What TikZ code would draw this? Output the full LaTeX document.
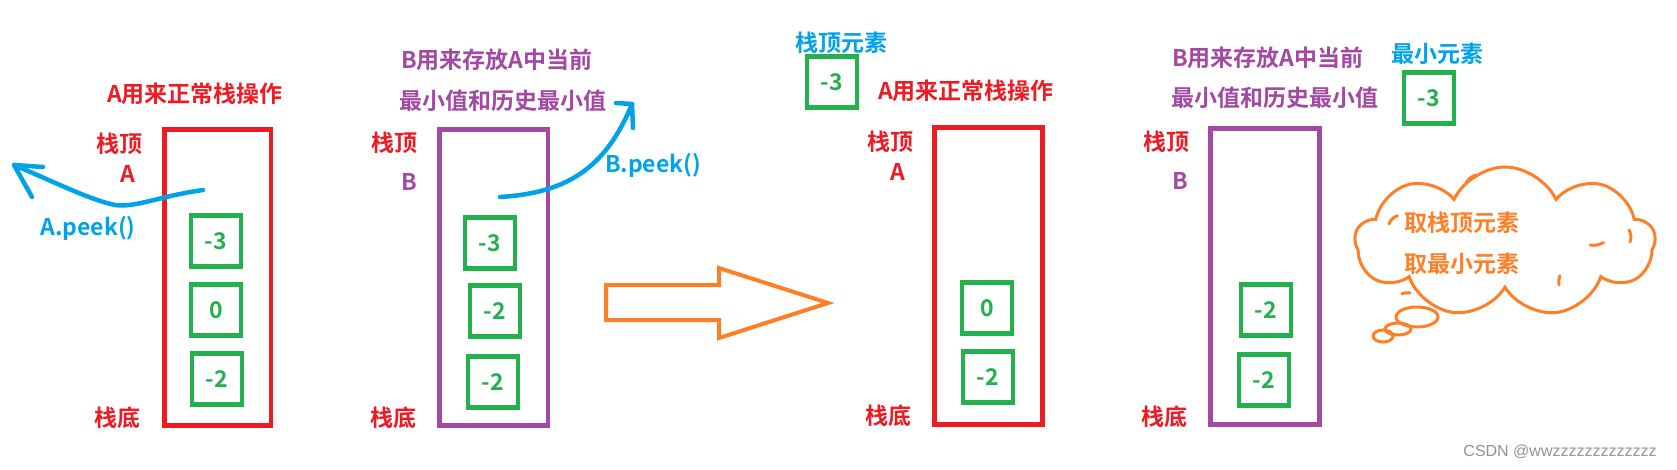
\documentclass[tikz,border=0pt]{standalone}
\usepackage{fontspec}
\setmainfont{Noto Sans CJK SC}[BoldFont={Noto Sans CJK SC Bold}]
\newfontfamily\wmfont{Liberation Sans}
\usetikzlibrary{shapes.symbols}
\definecolor{cred}{HTML}{ED1C24}
\definecolor{cpurple}{HTML}{A349A4}
\definecolor{cgreen}{HTML}{22B14C}
\definecolor{cblue}{HTML}{00A2E8}
\definecolor{corange}{HTML}{FF7F27}
\tikzset{
  lbl/.style={inner sep=0pt, font=\fontsize{23}{26}\selectfont\bfseries},
  redtxt/.style={lbl, text=cred},
  purtxt/.style={lbl, text=cpurple},
  bluetxt/.style={lbl, text=cblue},
  orgtxt/.style={lbl, text=corange},
  stackA/.style={draw=cred, line width=4.5pt},
  stackB/.style={draw=cpurple, line width=4.5pt},
  elem/.style={draw=cgreen, line width=4.5pt, minimum width=50pt, minimum height=51pt, inner sep=0pt, text=cgreen, font=\fontsize{23}{26}\selectfont\bfseries},
  peek/.style={draw=cblue, line width=4.5pt, line cap=round, line join=round},
  fat/.style={draw=corange, line width=4pt, line join=miter},
  thought/.style={draw=corange, line width=3pt, line cap=round}
}
\begin{document}
\begin{tikzpicture}[x=1pt, y=-1pt]
\useasboundingbox (0,0) rectangle (1677,469);
\fill[white] (0,0) rectangle (1677,469);

% ---------- panel 1 ----------
\node[redtxt] (t1) at (195,94) {A用来正常栈操作};
\node[redtxt] (top1) at (119,144) {栈顶};
\node[redtxt] (nA1) at (128,174) {A};
\node[redtxt] (bot1) at (117,418) {栈底};
\draw[stackA] (164.5,129.5) rectangle (271,425.5);
\node[elem] (a13) at (216,241) {-3};
\node[elem] (a10) at (216,310) {0};
\node[elem] (a12) at (217,379) {-2};
\coordinate (pA0) at (203,190);
\coordinate (pA1) at (14,165);
\draw[peek] (pA0) .. controls (160,196) and (135,208) .. (115,205)
  .. controls (90,200) and (50,180) .. (pA1);
\draw[peek] (43,167) -- (pA1) -- (32,197);
\node[bluetxt] (pkA) at (88,228) {A.peek()};

% ---------- panel 2 ----------
\node[purtxt] (t2a) at (497,60) {B用来存放A中当前};
\node[purtxt] (t2b) at (503,101) {最小值和历史最小值};
\node[redtxt] (top2) at (394,143) {栈顶};
\node[purtxt] (nB2) at (409,182) {B};
\node[redtxt] (bot2) at (393,418) {栈底};
\draw[stackB] (439.5,129.5) rectangle (548,425.5);
\node[elem] (b13) at (490,243) {-3};
\node[elem] (b12) at (495,311) {-2};
\node[elem] (b22) at (493,382) {-2};
\coordinate (pB0) at (500,197);
\coordinate (pB1) at (632,104);
\draw[peek] (pB0) .. controls (565,193) and (605,170) .. (pB1);
\draw[peek] (616,103) -- (pB1) -- (633,128);
\node[bluetxt] (pkB) at (653,165) {B.peek()};

% ---------- big arrow ----------
\draw[fat] (606,285) -- (719,285) -- (719,268) -- (828,303) -- (719,338) -- (719,320) -- (606,320) -- cycle;

% ---------- panel 3 ----------
\node[bluetxt] (tp3) at (841,43) {栈顶元素};
\node[elem] (c3) at (832,82) {-3};
\node[redtxt] (t3) at (966,91) {A用来正常栈操作};
\node[redtxt] (top3) at (890,142) {栈顶};
\node[redtxt] (nA3) at (898,172) {A};
\node[redtxt] (bot3) at (888,416) {栈底};
\draw[stackA] (934.5,127.5) rectangle (1042.5,424.5);
\node[elem] (c30) at (987,308) {0};
\node[elem] (c32) at (988,377) {-2};

% ---------- panel 4 ----------
\node[purtxt] (t4a) at (1268,58) {B用来存放A中当前};
\node[purtxt] (t4b) at (1275,98) {最小值和历史最小值};
\node[bluetxt] (mn4) at (1437,54) {最小元素};
\node[elem] (d3) at (1429,98) {-3};
\node[redtxt] (top4) at (1166,142) {栈顶};
\node[purtxt] (nB4) at (1180,181) {B};
\node[redtxt] (bot4) at (1164,417) {栈底};
\draw[stackB] (1210.5,128.5) rectangle (1319.5,424.5);
\node[elem] (d42) at (1266,310) {-2};
\node[elem] (d43) at (1264,380) {-2};

% cloud
\node[thought, cloud, cloud puffs=9, cloud puff arc=130, aspect=2, minimum width=300pt, minimum height=150pt, inner sep=0pt] (cl) at (1505,242) {};
\draw[thought] (1389,224) arc (200:250:14);
\draw[thought] (1466,183) arc (210:250:18);
\draw[thought] (1629,230) arc (-30:20:14);
\draw[thought] (1590,245) arc (100:60:20);
\draw[thought] (1559,285) arc (170:200:18);
\draw[thought] (1410,293) arc (-80:-110:16);
\node[orgtxt] (q1) at (1462,223) {取栈顶元素};
\node[orgtxt] (q2) at (1462,264) {取最小元素};
\draw[thought] (1417,317) ellipse (21 and 10);
\draw[thought] (1398,329) ellipse (13 and 6);
\draw[thought] (1383,336) ellipse (10 and 6);

\node[inner sep=0pt, text=gray!85, font=\wmfont\fontsize{16}{18}\selectfont] (wm) at (1560,452) {CSDN @wwzzzzzzzzzzzzz};
\end{tikzpicture}
\end{document}
